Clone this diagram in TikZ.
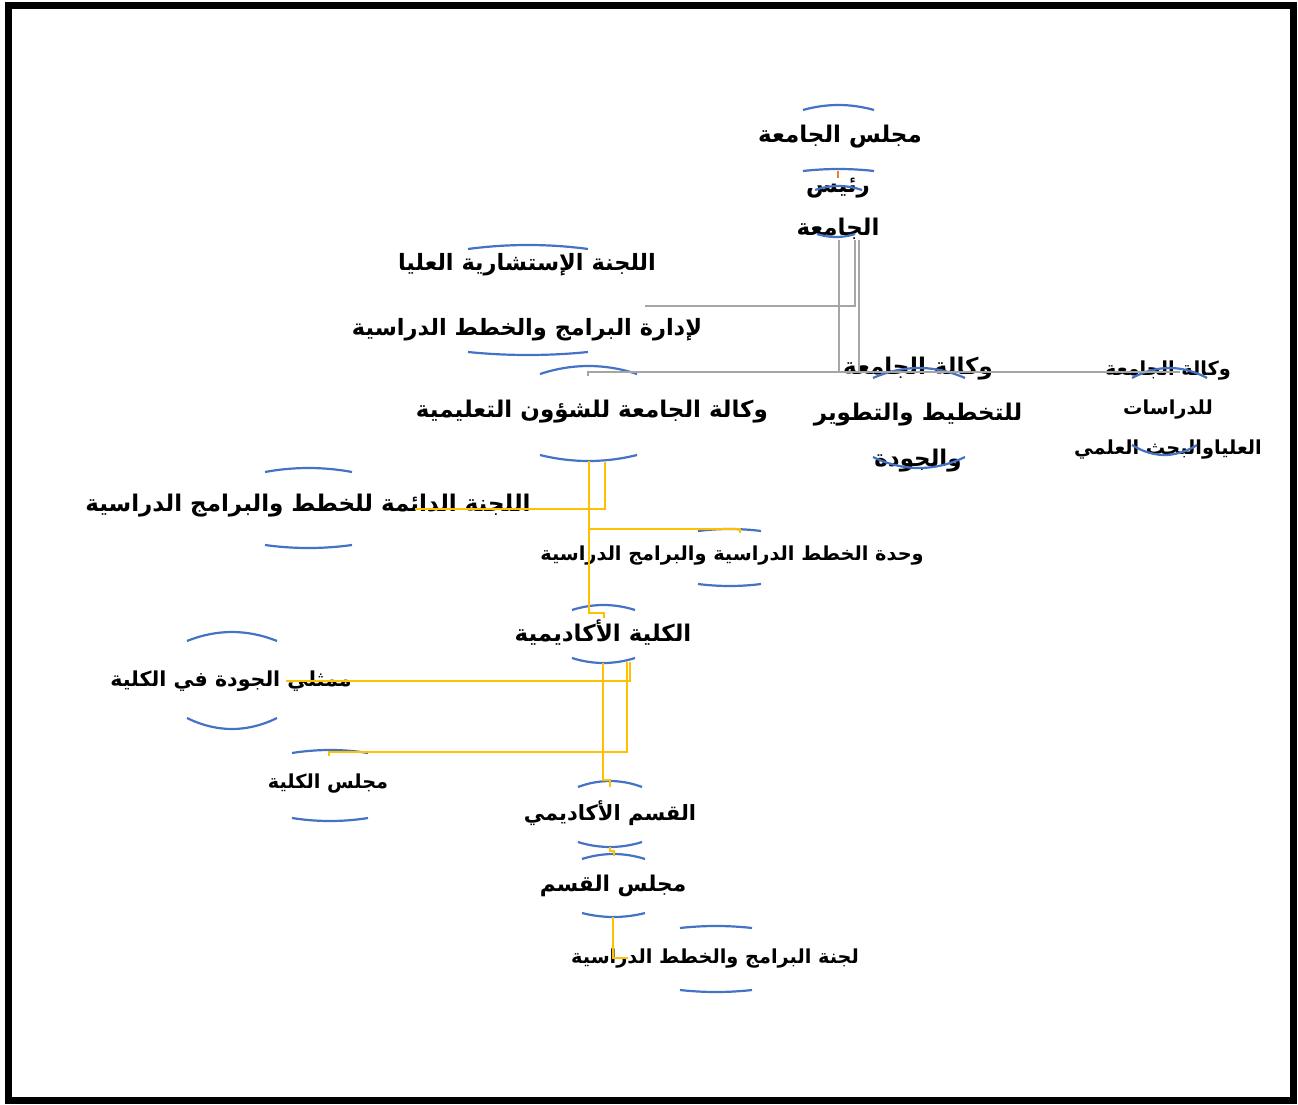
\documentclass[tikz,border=0pt]{standalone}
\usepackage{fontspec}
\usepackage{xcolor}
\usepackage{tikz}
\newfontfamily\arabicfont[Script=Arabic]{DejaVu Sans}
\TeXXeTstate=1

\definecolor{arcblue}{HTML}{4472C4}
\definecolor{linkyellow}{HTML}{FFC000}
\definecolor{linkgray}{HTML}{A5A5A5}
\definecolor{linkorange}{HTML}{ED7D31}

\newcommand{\ar}[1]{\beginR #1\endR}
\newcommand{\arfont}[2]{\arabicfont\bfseries\fontsize{#1}{#2}\selectfont}

\begin{document}
\begin{tikzpicture}[
  x=1pt, y=-1pt,
  txt/.style={inner sep=0pt, align=center, font=\arfont{23}{28}},
  smalltxt/.style={inner sep=0pt, align=center, font=\arfont{19.3}{24}},
  arcline/.style={draw=arcblue, line width=2.2pt},
  yel/.style={draw=linkyellow, line width=2.8pt},
  gry/.style={draw=linkgray, line width=2.8pt},
  org/.style={draw=linkorange, line width=2.8pt},
]
  \useasboundingbox (0,0) rectangle (1298,1105);
  \draw[line width=7pt] (8.5,5.5) rectangle (1293.5,1100.5);

  % text of the chart
  \node[txt] (ucouncil) at (840,137) {\ar{مجلس الجامعة}};
  \node[txt, font=\arfont{23}{43}] (president) at (838,209) {\ar{رئيس}\\\ar{الجامعة}};
  \node[txt, font=\arfont{22.5}{65}] (advcomm) at (527,297) {\ar{اللجنة الإستشارية العليا}\\\ar{لإدارة البرامج والخطط الدراسية}};
  \node[txt] (eduvice) at (592,412) {\ar{وكالة الجامعة للشؤون التعليمية}};
  \node[txt, font=\arfont{23}{46}] (planvice) at (918,415) {\ar{وكالة الجامعة}\\\ar{للتخطيط والتطوير}\\\ar{والجودة}};
  \node[smalltxt, font=\arfont{19.3}{39.5}] (gradvice) at (1168,410) {\ar{وكالة الجامعة}\\\ar{للدراسات}\\\ar{العلياوالبحث العلمي}};
  \node[txt] (permcomm) at (308,506) {\ar{اللجنة الدائمة للخطط والبرامج الدراسية}};
  \node[smalltxt] (planunit) at (732,556) {\ar{وحدة الخطط الدراسية والبرامج الدراسية}};
  \node[txt] (college) at (603,633) {\ar{الكلية الأكاديمية}};
  \node[txt, font=\arfont{20.6}{26}] (qualityrep) at (231,681) {\ar{ممثلي الجودة في الكلية}};
  \node[smalltxt] (cboard) at (328,784) {\ar{مجلس الكلية}};
  \node[txt, font=\arfont{21}{26}] (dept) at (610,813) {\ar{القسم الأكاديمي}};
  \node[txt, font=\arfont{21.7}{26}] (dboard) at (613,886) {\ar{مجلس القسم}};
  \node[smalltxt] (pcomm) at (715,959) {\ar{لجنة البرامج والخطط الدراسية}};

  % blue brackets above and below the texts
  \draw[arcline] (803,110) parabola bend (838.5,105) (874,110);
  \draw[arcline] (803,171) parabola bend (838.5,169) (874,171);
  \draw[arcline] (815,190) parabola bend (838.5,186) (862,190);
  \draw[arcline] (817,234) parabola bend (836,237) (855,234);
  \draw[arcline] (468,249) parabola bend (528,245) (588,249);
  \draw[arcline] (468,352) parabola bend (528,355) (588,352);
  \draw[arcline] (540,374) parabola bend (588.5,366) (637,374);
  \draw[arcline] (540,455) parabola bend (588.5,461) (637,455);
  \draw[arcline] (873,378) parabola bend (919,368) (965,378);
  \draw[arcline] (873,457) parabola bend (919,468) (965,457);
  \draw[arcline] (1132,378) parabola bend (1169.5,368) (1207,378);
  \draw[arcline] (1132,445) parabola bend (1164.5,455) (1197,445);
  \draw[arcline] (265,472) parabola bend (308.5,468) (352,472);
  \draw[arcline] (265,545) parabola bend (308.5,548) (352,545);
  \draw[arcline] (698,531) parabola bend (729.5,529) (761,531);
  \draw[arcline] (698,584) parabola bend (729.5,586) (761,584);
  \draw[arcline] (572,610) parabola bend (603.5,605) (635,610);
  \draw[arcline] (572,658) parabola bend (603.5,663) (635,658);
  \draw[arcline] (187,641) parabola bend (232,632) (277,641);
  \draw[arcline] (187,718) parabola bend (232,729) (277,718);
  \draw[arcline] (292,753) parabola bend (330,750) (368,753);
  \draw[arcline] (292,818) parabola bend (330,821) (368,818);
  \draw[arcline] (578,787) parabola bend (610,781) (642,787);
  \draw[arcline] (578,842) parabola bend (610,847) (642,842);
  \draw[arcline] (582,859) parabola bend (613.5,854) (645,859);
  \draw[arcline] (582,913) parabola bend (613.5,917) (645,913);
  \draw[arcline] (680,928) parabola bend (716,926) (752,928);
  \draw[arcline] (680,990) parabola bend (716,992) (752,990);

  % ends of the connectors
  \coordinate (uc-b) at (838,171);
  \coordinate (pr-t) at (838,178);
  \coordinate (p1) at (839,240);
  \coordinate (p2) at (855,240);
  \coordinate (p3) at (859,240);
  \coordinate (hub) at (839,372);
  \coordinate (adv-end) at (645,306);
  \coordinate (edu-t) at (588,376);
  \coordinate (grad-end) at (1180,372);
  \coordinate (e1) at (589,461);
  \coordinate (e2) at (605,462);
  \coordinate (perm-end) at (415,509);
  \coordinate (unit-t) at (740,533);
  \coordinate (col-t) at (604,618);
  \coordinate (c1) at (603,663);
  \coordinate (c2) at (627,662);
  \coordinate (c3) at (630,662);
  \coordinate (qrep-end) at (286,681);
  \coordinate (cb-t) at (329,756);
  \coordinate (dp-t) at (610,787);
  \coordinate (dp-b) at (610,847);
  \coordinate (db-t) at (614,856);
  \coordinate (db-b) at (613,917);
  \coordinate (pc-end) at (628,958);

  % connectors
  \draw[org] (uc-b) -- (pr-t);
  \draw[gry] (p2) |- (adv-end);
  \draw[gry] (p1) -- (hub) -| (edu-t);
  \draw[gry] (p3) -- (p3 |- hub);
  \draw[gry] (hub) -- (grad-end);
  \draw[yel] (e2) |- (perm-end);
  \draw[yel] (e1) -- (589,613) -| (col-t);
  \draw[yel] (e1 |- unit-t) ++(0,-4) -| (unit-t);
  \draw[yel] (c3) |- (qrep-end);
  \draw[yel] (c2) -- (627,752) -| (cb-t);
  \draw[yel] (c1) -- (603,780) -| (dp-t);
  \draw[yel] (dp-b) -- (610,851) -| (db-t);
  \draw[yel] (db-b) |- (pc-end);
\end{tikzpicture}
\end{document}
